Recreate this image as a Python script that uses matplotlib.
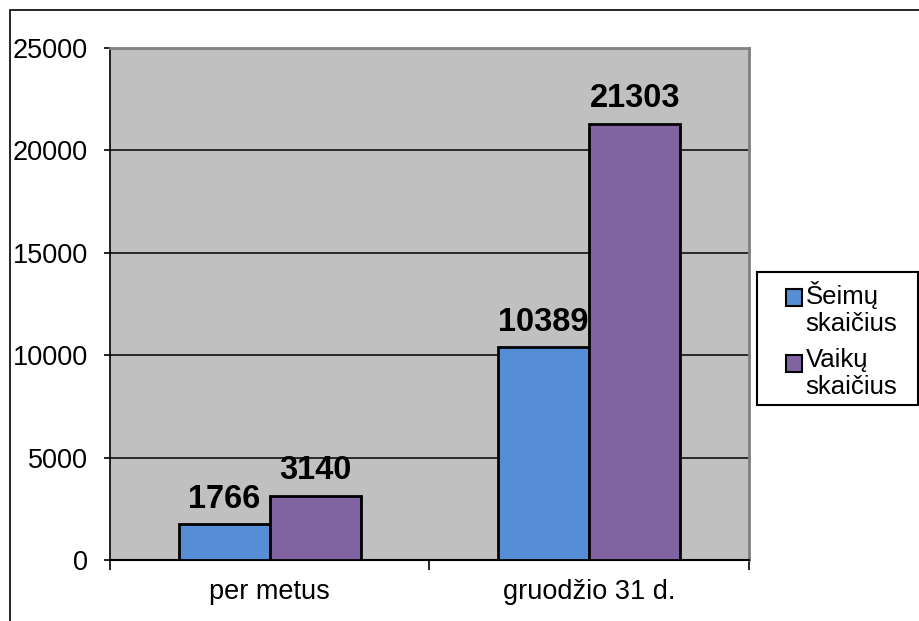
import matplotlib
matplotlib.use("Agg")
import matplotlib.pyplot as plt
import numpy as np
from matplotlib.patches import Rectangle
from matplotlib.legend_handler import HandlerPatch

categories = ["per metus", "gruodžio 31 d."]
series_names = ["Šeimų\nskaičius", "Vaikų\nskaičius"]
seimu = [1766, 10389]
vaiku = [3140, 21303]
yticks = [0, 5000, 10000, 15000, 20000, 25000]

colors = ["#558ED5", "#8064A2"]

plt.rcParams['font.family'] = ['Liberation Sans', 'DejaVu Sans']

W, H = 920, 621
fig = plt.figure(figsize=(W/100, H/100), dpi=100)
fig.patch.set_facecolor("white")
ax = fig.add_axes([110/W, 1-560/H, (749-110)/W, (560-48)/H])
ax.set_facecolor("#C0C0C0")

x = np.arange(len(categories))
w = 0.285
b1 = ax.bar(x - w/2, seimu, w, color=colors[0], edgecolor="black", linewidth=2, label=series_names[0], zorder=3)
b2 = ax.bar(x + w/2, vaiku, w, color=colors[1], edgecolor="black", linewidth=2, label=series_names[1], zorder=3)

for bars, vals in ((b1, seimu), (b2, vaiku)):
    for r, v in zip(bars, vals):
        ax.text(r.get_x() + r.get_width()/2, v + 450, f"{v}", ha="center", va="bottom",
                fontsize=23.5, fontweight="bold", zorder=4)

ax.set_xlim(-0.5, len(categories) - 0.5)
ax.set_ylim(0, 25000)
ax.set_yticks(yticks)
ax.set_yticklabels([str(t) for t in yticks], fontsize=19.5)
ax.yaxis.grid(True, color="black", linewidth=1.1, zorder=1)
ax.set_axisbelow(True)

ax.set_xticks(x)
ax.set_xticklabels(categories, fontsize=19.5)
ax.tick_params(axis="x", length=0, pad=14)
ax.set_xticks(np.arange(-0.5, len(categories)), minor=True)
ax.tick_params(axis="x", which="minor", length=7, width=1.2, color="black")
ax.tick_params(axis="y", length=4.5, width=1.2, color="black", pad=11.5)

for s in ("top", "right"):
    ax.spines[s].set_color("#808080")
    ax.spines[s].set_linewidth(2)
ax.spines["left"].set_color("black")
ax.spines["left"].set_linewidth(1.2)
ax.spines["bottom"].set_color("black")
ax.spines["bottom"].set_linewidth(1.5)

LEG_FS = 18.5

def top_square(legend, orig_handle, xdescent, ydescent, width, height, fontsize):
    return Rectangle((-xdescent, -ydescent + 0.42 * fontsize), width, height)

# legend frame
fig.add_artist(Rectangle((757/W, 1-405/H), (918-757)/W, (405-272)/H, transform=fig.transFigure,
                         fill=True, facecolor="white", edgecolor="black", linewidth=1.5, zorder=5))
h1, h2 = b1.patches[0], b2.patches[0]
leg = fig.legend(handles=[h1, h2], labels=series_names, loc="upper left",
                 bbox_to_anchor=(778/W, 1-273/H), fontsize=LEG_FS, frameon=False,
                 handlelength=0.62, handleheight=0.62,
                 handletextpad=0.15, borderpad=0.3, labelspacing=0.5, borderaxespad=0,
                 handler_map={h1: HandlerPatch(patch_func=top_square),
                              h2: HandlerPatch(patch_func=top_square)})
leg.set_zorder(6)
for t in leg.get_texts():
    t.set_linespacing(1.15)
for h in leg.legend_handles:
    h.set_linewidth(1.5)

# figure border (top and left visible)
fig.add_artist(Rectangle((10/W, -0.1), 1.2, 1 - 10/H + 0.1, transform=fig.transFigure,
                         fill=False, edgecolor="black", linewidth=1.2))

fig.savefig("out.png", dpi=100)
